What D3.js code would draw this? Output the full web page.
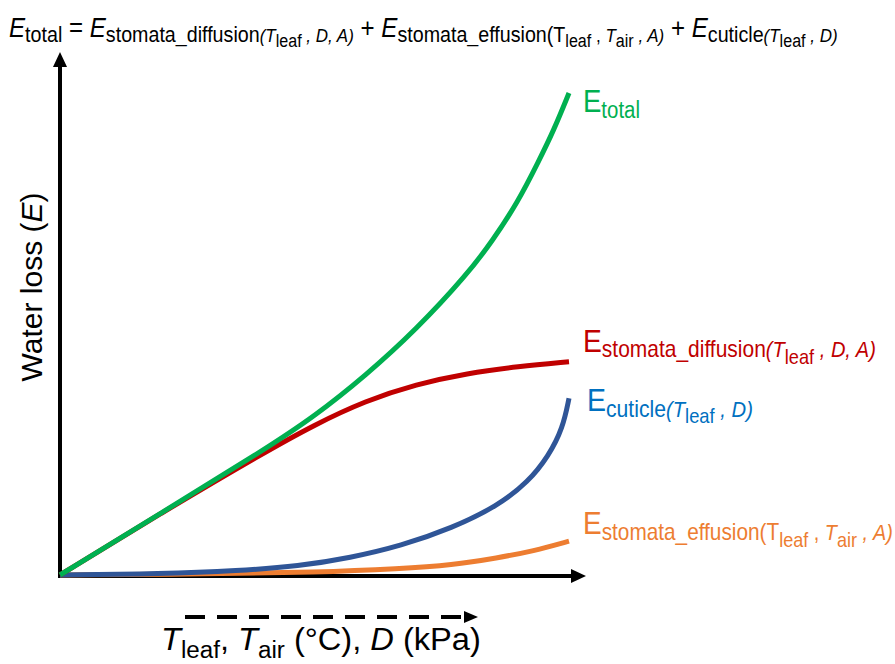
<!DOCTYPE html>
<html>
<head>
<meta charset="utf-8">
<script src="https://cdn.jsdelivr.net/npm/d3@7"></script>
<style>
  body { margin: 0; background: #fff; }
  text { white-space: pre; }
</style>
</head>
<body>
<svg id="chart" width="895" height="664"></svg>
<script>
// driver (Tleaf, Tair, D) and water loss, both on a relative 0-100 scale
const totalX = [0, 20, 40, 50, 60, 70, 80, 85, 90, 94, 97, 100];
const totalY = [0, 12, 24, 30.5, 38.3, 47.2, 57.8, 64.3, 71.8, 79.5, 85.5, 92.7];
const diffusionX = [0, 20, 40, 50, 60, 70, 80, 90, 100];
const diffusionY = [0, 12, 23.5, 28.9, 33.5, 36.7, 38.8, 40.1, 41.0];
const cuticleX = [0, 20, 35, 47, 57, 67, 77, 86, 92, 96, 98.8, 100];
const cuticleY = [0, 0.2, 0.8, 1.7, 3.3, 5.6, 9.0, 13.3, 17.9, 22.9, 28.3, 34.0];
const effusionX = [0, 30, 50, 67, 77, 86, 93, 100];
const effusionY = [0, 0.2, 0.5, 1.2, 1.9, 3.3, 4.6, 6.5];

// rich text pieces: [text, font size, level (0 base, 1 sub, 2 sub-sub), italic]
const equationParts = [
  ["E", 27, 0, 1], ["total", 22, 1, 0], [" = ", 27, 0, 0],
  ["E", 27, 0, 1], ["stomata_diffusion", 22, 1, 0], ["(T", 19, 1, 1], ["leaf", 18, 2, 0], [" , D, A)", 19, 1, 1],
  [" + ", 27, 0, 0],
  ["E", 27, 0, 1], ["stomata_effusion(T", 22, 1, 0], ["leaf", 18, 2, 0], [" , ", 19, 1, 0], ["T", 19, 1, 1], ["air", 18, 2, 0], [" , A)", 19, 1, 1],
  [" + ", 27, 0, 0],
  ["E", 27, 0, 1], ["cuticle", 22, 1, 0], ["(T", 19, 1, 1], ["leaf", 18, 2, 0], [" , D)", 19, 1, 1],
];
const totalParts = [["E", 31, 0, 0], ["total", 23, 1, 0]];
const diffusionParts = [["E", 31, 0, 0], ["stomata_diffusion", 23, 1, 0], ["(T", 22, 1, 1], ["leaf", 20, 2, 0], [" , D, A)", 22, 1, 1]];
const cuticleParts = [["E", 31, 0, 0], ["cuticle", 23, 1, 0], ["(T", 22, 1, 1], ["leaf", 20, 2, 0], [" , D)", 22, 1, 1]];
const effusionParts = [["E", 31, 0, 0], ["stomata_effusion(T", 23, 1, 0], ["leaf", 20, 2, 0], [" , ", 22, 1, 0], ["T", 22, 1, 1], ["air", 20, 2, 0], [" , A)", 22, 1, 1]];
const xTitleParts = [["T", 31, 0, 1], ["leaf", 23, 1, 0], [", ", 31, 0, 0], ["T", 31, 0, 1], ["air", 23, 1, 0], [" (°C), ", 31, 0, 0], ["D", 31, 0, 1], [" (kPa)", 31, 0, 0]];

const narrow = "'Liberation Sans Narrow', 'Liberation Sans', Arial, sans-serif";
const regular = "'Liberation Sans', Arial, sans-serif";

const svg = d3.select("#chart");
const x = d3.scaleLinear().domain([0, 100]).range([60, 569]);
const y = d3.scaleLinear().domain([0, 100]).range([575, 55]);

// write rich text and squeeze it to the wanted width
const richText = (root, left, base, parts, width, color, font, shifts) => {
  const text = root
    .append("text")
    .attr("fill", color)
    .attr("font-family", font);
  let prev = 0;
  parts.forEach(([t, size, level, italic]) => {
    text
      .append("tspan")
      .attr("dy", shifts[level] - prev)
      .attr("font-size", size)
      .attr("font-style", italic ? "italic" : "normal")
      .text(t);
    prev = shifts[level];
  });
  const w = text.node().getComputedTextLength();
  text.attr("transform", `translate(${left},${base}) scale(${width / w},1)`);
};

// axes
const x0 = x.range()[0];
const y0 = y(0) + 1;
const axis = svg.append("g").attr("fill", "#000").attr("stroke", "#000");
axis.append("line")
  .attr("x1", x0).attr("y1", y0 + 2)
  .attr("x2", x0).attr("y2", y.range()[1] + 10)
  .attr("stroke-width", 4);
axis.append("path")
  .attr("stroke", "none")
  .attr("d", `M${x0},${y.range()[1] - 3} L${x0 - 7},${y.range()[1] + 12} L${x0 + 7},${y.range()[1] + 12} Z`);
axis.append("line")
  .attr("x1", x0 - 2).attr("y1", y0)
  .attr("x2", x.range()[1] + 5).attr("y2", y0)
  .attr("stroke-width", 4);
axis.append("path")
  .attr("stroke", "none")
  .attr("d", `M${x.range()[1] + 17},${y0} L${x.range()[1] + 2},${y0 - 7} L${x.range()[1] + 2},${y0 + 7} Z`);

// dashed arrow under the x axis
axis.append("line")
  .attr("x1", 185).attr("y1", 617)
  .attr("x2", 466).attr("y2", 617)
  .attr("stroke-width", 4)
  .attr("stroke-dasharray", "20,12");
axis.append("path")
  .attr("stroke", "none")
  .attr("d", "M478,617 L464,611 L464,623 Z");

// curves
const series = [
  { xs: effusionX, ys: effusionY, color: "#ED7D31" },
  { xs: cuticleX, ys: cuticleY, color: "#2F5597" },
  { xs: diffusionX, ys: diffusionY, color: "#C00000" },
  { xs: totalX, ys: totalY, color: "#00B050" },
];
const line = d3.line()
  .x((d) => x(d[0]))
  .y((d) => y(d[1]))
  .curve(d3.curveBasis);

svg.append("g")
  .selectAll("path")
  .data(series)
  .enter()
  .append("path")
  .attr("fill", "none")
  .attr("stroke", (d) => d.color)
  .attr("stroke-width", 5)
  .attr("d", (d) => line(d.xs.map((v, i) => [v, d.ys[i]])));

// labels
richText(svg, 9, 37, equationParts, 829, "#000", narrow, [0, 5, 10]);
richText(svg, 583, 112, totalParts, 57, "#00B050", narrow, [0, 6, 13]);
richText(svg, 583, 352, diffusionParts, 293, "#C00000", narrow, [0, 5, 12]);
richText(svg, 587, 411, cuticleParts, 166, "#0070C0", narrow, [0, 6, 12]);
richText(svg, 583, 534, effusionParts, 310, "#ED7D31", narrow, [0, 6, 13]);
richText(svg, 161, 650, xTitleParts, 320, "#000", regular, [0, 8]);

const yTitle = svg.append("text")
  .attr("transform", "translate(42,287) rotate(-90)")
  .attr("text-anchor", "middle")
  .attr("font-family", regular)
  .attr("font-size", 30);
yTitle.append("tspan").text("Water loss (");
yTitle.append("tspan").attr("font-style", "italic").text("E");
yTitle.append("tspan").text(")");
</script>
</body>
</html>
